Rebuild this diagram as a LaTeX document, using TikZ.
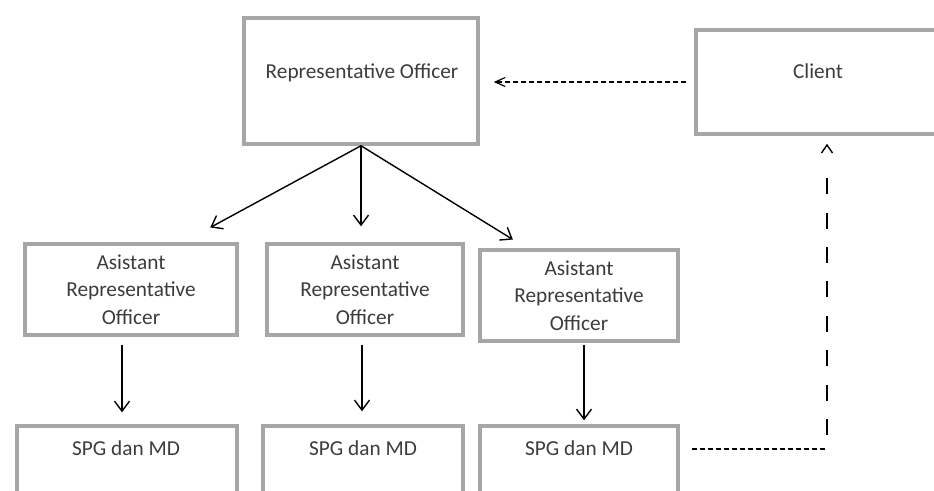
\documentclass[tikz,border=0pt]{standalone}
\usepackage{fontspec}
\setmainfont{Carlito}
\usetikzlibrary{arrows.meta}
\definecolor{boxgray}{RGB}{166,166,166}
\definecolor{txtgray}{RGB}{60,60,60}
\begin{document}
\begin{tikzpicture}[x=1pt,y=-1pt,
  box/.style={draw=boxgray,line width=3.5pt,inner sep=0pt},
  txt/.style={text=txtgray,font=\fontsize{21.3}{27.5}\selectfont,align=center,anchor=base,inner sep=0pt},
  arr/.style={line width=1.4pt,-{Straight Barb[length=10pt,width=15pt,line width=1.4pt]}},
  fdash/.style={line width=1.3pt,dash pattern=on 5pt off 3pt},
  ldash/.style={line width=2pt,dash pattern={on 0pt off 14pt on 16pt off 18.4pt on 16pt off 18.4pt on 16pt off 18.4pt on 16pt off 18.4pt on 16pt off 18.4pt on 16pt off 18.4pt on 16pt off 18.4pt on 16pt off 400pt}}]
\useasboundingbox (0,0) rectangle (934,490);
\clip (0,0) rectangle (934,490);
% boxes
\node[box,minimum width=234pt,minimum height=126pt] (ro) at (361,81) {};
\node[box,minimum width=244pt,minimum height=104pt] (cl) at (818,82) {};
\node[box,minimum width=212pt,minimum height=91pt] (a1) at (131,289.5) {};
\node[box,minimum width=196pt,minimum height=91pt] (a2) at (365,289.5) {};
\node[box,minimum width=198pt,minimum height=91pt] (a3) at (579,295.5) {};
\node[box,minimum width=220pt,minimum height=100pt] (s1) at (127,476) {};
\node[box,minimum width=200pt,minimum height=100pt] (s2) at (363,476) {};
\node[box,minimum width=198pt,minimum height=100pt] (s3) at (579,476) {};
% texts (base anchor = baseline of the last line)
\node[txt] (rot) at (362,78) {Representative Officer};
\node[txt] (clt) at (818,78) {Client};
\node[txt] (a1t) at (131,324) {Asistant\\Representative\\Officer};
\node[txt] (a2t) at (365,324) {Asistant\\Representative\\Officer};
\node[txt] (a3t) at (579,330) {Asistant\\Representative\\Officer};
\node[txt] (s1t) at (126,455) {SPG dan MD};
\node[txt] (s2t) at (363,455) {SPG dan MD};
\node[txt] (s3t) at (579,455) {SPG dan MD};
% solid arrows
\draw[arr,shorten >=31pt] (ro.south) -- ([xshift=52pt]a1.north);
\draw[arr,shorten >=16pt] (ro.south) -- (ro.south |- a2.north);
\draw[arr,shorten >=16.6pt] (ro.south) -- ([xshift=-52pt]a3.north);
\draw[arr,shorten <=8pt,shorten >=12pt] ([xshift=-9pt]a1.south) -- ([xshift=-9pt]a1.south |- s1.north);
\draw[arr,shorten <=8pt,shorten >=13pt] ([xshift=-3pt]a2.south) -- ([xshift=-3pt]a2.south |- s2.north);
\draw[arr,shorten <=2pt,shorten >=4pt] ([xshift=5pt]a3.south) -- ([xshift=5pt]a3.south |- s3.north);
% dashed connectors
\draw[fdash,-{Straight Barb[length=10pt,width=9pt,line width=1.2pt]},shorten <=8pt,shorten >=14pt] (cl.west) -- (ro.east |- cl.west);
\coordinate (corner) at (827,449);
\draw[fdash,shorten <=12pt] (s3.east |- corner) -- (corner);
\draw[ldash,-{Straight Barb[length=8pt,width=11pt,line width=1.4pt]},shorten >=8pt] (corner) -- (corner |- cl.south);
\end{tikzpicture}
\end{document}
